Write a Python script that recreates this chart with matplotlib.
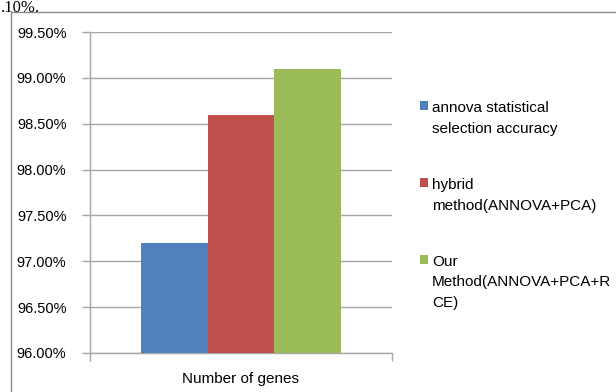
import matplotlib.pyplot as plt
from matplotlib.patches import Rectangle
from matplotlib.ticker import FuncFormatter

plt.rcParams['font.family'] = ['Liberation Sans', 'DejaVu Sans']

# wyniki dokładności dla trzech metod
methods = ['annova statistical\nselection accuracy',
           'hybrid\nmethod(ANNOVA+PCA)',
           'Our\nMethod(ANNOVA+PCA+R\nCE)']
accuracy = [97.20, 98.60, 99.10]
colors = ['#4F81BD', '#C0504D', '#9BBB59']
category = 'Number of genes'
y_ticks = [96.0, 96.5, 97.0, 97.5, 98.0, 98.5, 99.0, 99.5]

fig = plt.figure(figsize=(6.16, 3.92), dpi=100)
ax = fig.add_axes([90 / 616, 39 / 392, 302 / 616, 321 / 392])

grid_c = '#A6A6A6'
offsets = [-1, 0, 1]
for off, val, col, name in zip(offsets, accuracy, colors, methods):
    ax.bar(off, val - 96.0, bottom=96.0, width=1.0, color=col, label=name, zorder=3)

ax.set_ylim(96.0, 99.5)
ax.set_xlim(-2.254, 2.254)
ax.set_yticks(y_ticks)
ax.yaxis.set_major_formatter(FuncFormatter(lambda v, p: f'{v:.2f}%'))
ax.set_xticks([0])
ax.set_xticklabels([category])
ax.set_xticks([-2.254, 2.254], minor=True)
ax.tick_params(axis='x', which='major', length=0, pad=14, labelsize=11, colors='#000000')
ax.tick_params(axis='x', which='minor', length=6, color=grid_c, width=1)
ax.tick_params(axis='y', length=6, color=grid_c, width=1, labelsize=10.5, pad=11)
ax.yaxis.grid(True, color=grid_c, linewidth=1, zorder=0)
for s in ['top', 'right']:
    ax.spines[s].set_visible(False)
for s in ['left', 'bottom']:
    ax.spines[s].set_color(grid_c)
    ax.spines[s].set_linewidth(1)

leg = ax.legend(loc='upper left', bbox_to_anchor=(420 / 616, 1 - 101 / 392),
                bbox_transform=fig.transFigure, frameon=False, fontsize=11,
                handlelength=0.55, handleheight=0.55, handletextpad=0.25,
                labelspacing=2.75, borderaxespad=0, borderpad=0)
for t in leg.get_texts():
    t.set_linespacing(1.62)
# kwadrat legendy przy pierwszej linii opisu
for col in leg._legend_handle_box.get_children():
    for row in col.get_children():
        row.align = 'top'

# ramka wykresu i fragment tekstu nad nią
fig.patches.append(Rectangle((11 / 616, -0.1), 1.2, 0.1 + (392 - 12) / 392,
                             transform=fig.transFigure, fill=False,
                             edgecolor='#8C8C8C', linewidth=1))
fig.text(0.001, 1 - 12 / 392, '.10%.', family='Liberation Serif', fontsize=12,
         va='baseline', ha='left')

fig.savefig('out.png', dpi=100)
